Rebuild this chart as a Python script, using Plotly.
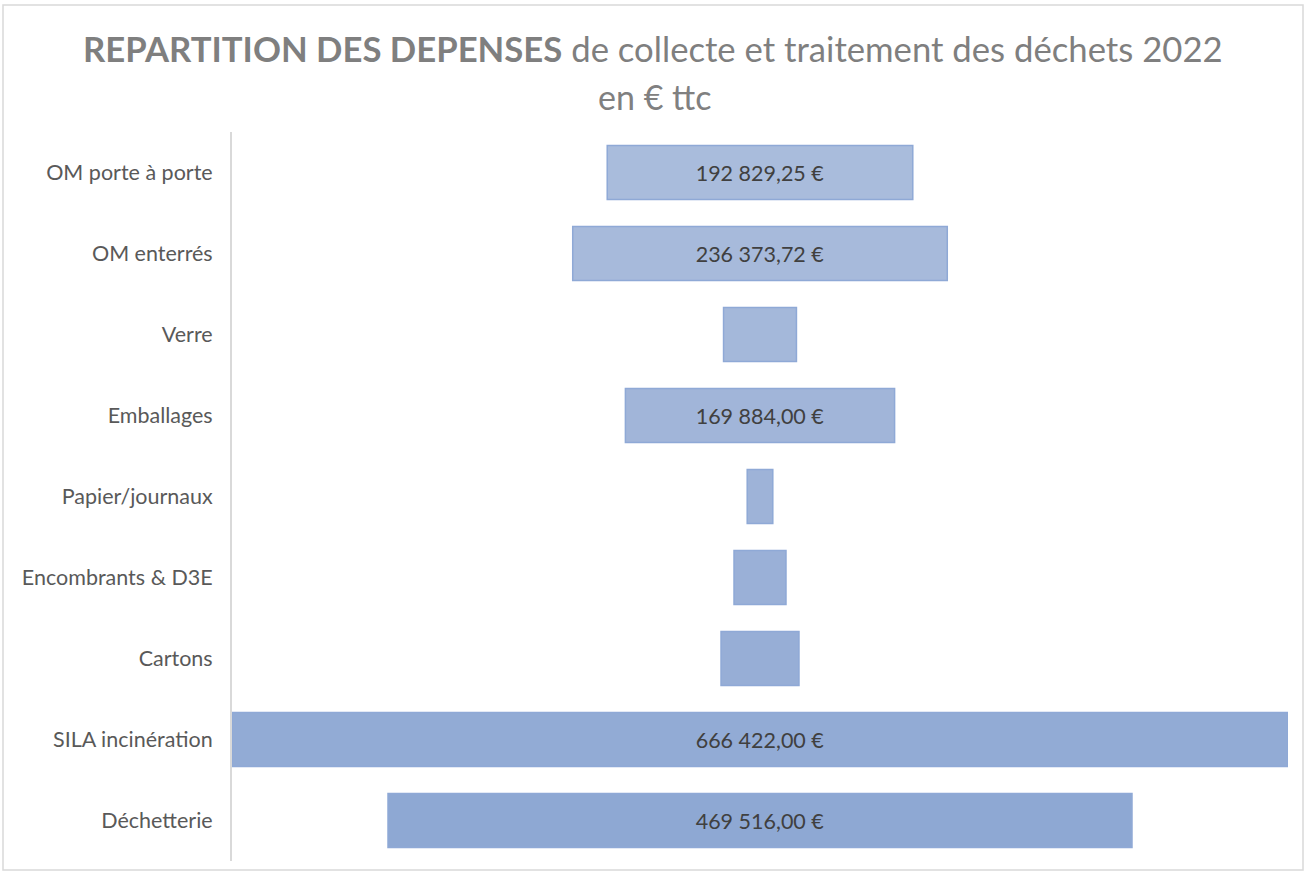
import plotly.graph_objects as go

categories = ["OM porte à porte", "OM enterrés", "Verre", "Emballages", "Papier/journaux",
              "Encombrants & D3E", "Cartons", "SILA incinération", "Déchetterie"]
values = [192829.25, 236373.72, 46000, 169884.00, 16150, 32800, 49200, 666422.00, 469516.00]
labels = ["192 829,25 €", "236 373,72 €", "", "169 884,00 €", "", "", "", "666 422,00 €", "469 516,00 €"]
colors = ["#A9BCDC", "#A7BADB", "#A4B8DA", "#A1B5D9", "#9EB3D8", "#9AB0D7", "#97AED6", "#92ABD5", "#8EA8D3"]

W, H = 1306, 872
L, R, T, B = 232, 18, 132, 11
pw, ph = W - L - R, H - T - B


def py(page_y):
    return (H - B - page_y) / ph


def px(page_x):
    return (page_x - L) / pw


fig = go.Figure(go.Funnel(
    y=categories, x=values, text=labels, texttemplate="%{text}",
    textposition="inside", insidetextanchor="middle",
    textfont=dict(family="Lato", size=21.5, color="#404040"),
    marker=dict(color=colors, line=dict(color="#8FA9D6", width=1.5)),
    connector=dict(visible=False),
    hoverinfo="y+x",
))

half = max(values) / 2
fig.update_layout(
    width=W, height=H,
    margin=dict(l=L, r=R, t=T, b=B),
    paper_bgcolor="white", plot_bgcolor="white",
    font=dict(family="Lato", color="#595959"),
    showlegend=False,
    funnelgap=0.333,
    xaxis=dict(range=[-half, half], visible=False, fixedrange=True),
    yaxis=dict(showline=True, linecolor="#D9D9D9", linewidth=2, showgrid=False,
               ticks="", ticklabelstandoff=13,
               tickfont=dict(family="Lato", size=21.5, color="#595959")),
    annotations=[
        dict(text="<b>REPARTITION DES DEPENSES</b> de collecte et traitement des déchets 2022",
             xref="paper", yref="paper", x=px(653), y=py(48), xanchor="center", yanchor="middle",
             showarrow=False, font=dict(family="Lato", size=34.7, color="#7F7F7F")),
        dict(text="en € ttc",
             xref="paper", yref="paper", x=px(654), y=py(96), xanchor="center", yanchor="middle",
             showarrow=False, font=dict(family="Lato", size=34, color="#808080")),
    ],
    shapes=[dict(type="rect", xref="paper", yref="paper",
                 x0=px(3), x1=px(1303), y0=py(870), y1=py(5),
                 line=dict(color="#D9D9D9", width=1.5), fillcolor="rgba(0,0,0,0)", layer="below")],
)

fig.write_html("out.html", config={"displayModeBar": False},
               post_script="document.body.style.margin='0';document.body.style.padding='0';")
